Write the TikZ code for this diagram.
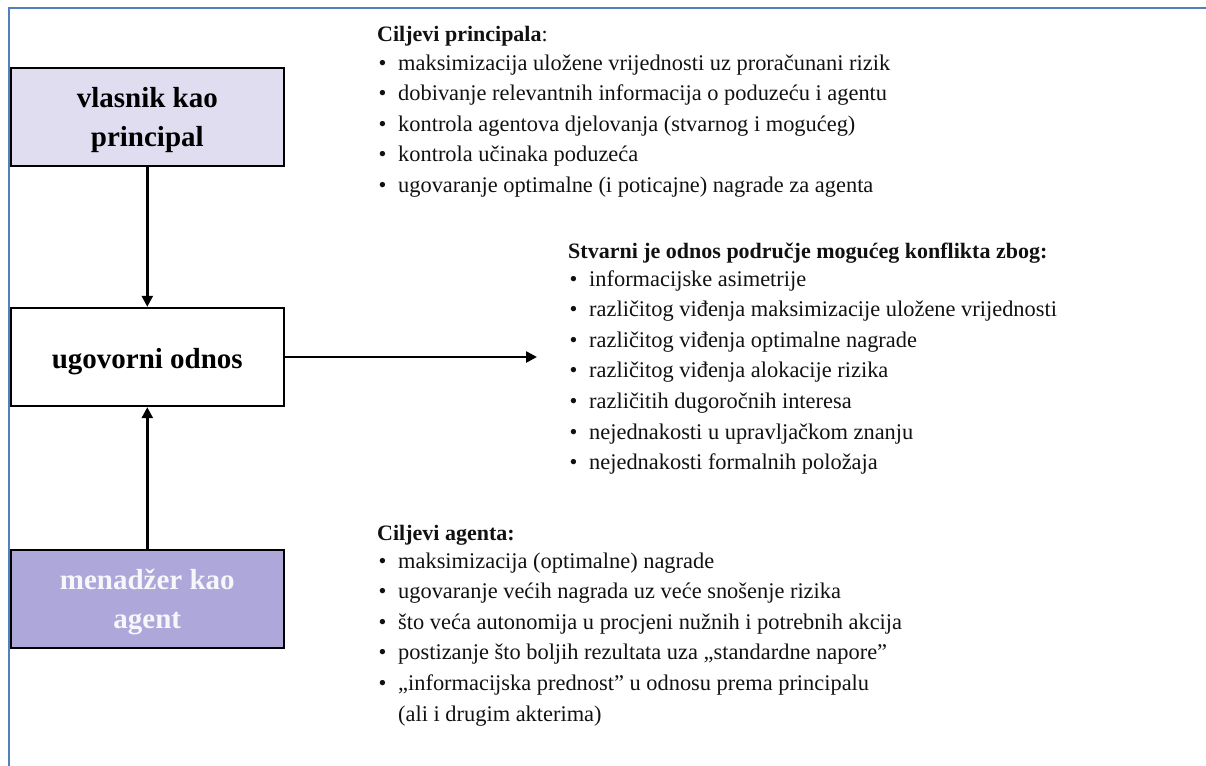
\documentclass[tikz,border=0pt]{standalone}
\usepackage{fontspec}
\setmainfont{Liberation Serif}
\usetikzlibrary{arrows.meta}
\definecolor{frameblue}{HTML}{4F81BD}
\definecolor{lav}{HTML}{E0DDF1}
\definecolor{purp}{HTML}{AEA7DA}
\definecolor{wtxt}{HTML}{F6F6FB}
\definecolor{bodytxt}{HTML}{111111}
\newcommand{\mybul}[1]{\hbox{\makebox[21pt][l]{\hspace{1.5pt}•}#1}}
\newcommand{\myhead}[1]{\hbox{\fontsize{22}{30.6}\selectfont #1}\vskip-2.5pt}
\tikzset{
  box/.style={draw=black, line width=1.9pt, minimum width=273.3pt, minimum height=98.5pt,
    inner sep=0pt, align=center, font=\bfseries\fontsize{29}{39}\selectfont},
  conn/.style={line width=2.5pt, -{Triangle[length=11pt,width=11pt]}},
  frame/.style={draw=frameblue, line width=2.4pt},
  txt/.style={anchor=base west, inner sep=0pt, text=bodytxt, font=\fontsize{22.4}{30.6}\selectfont},
}
\begin{document}
\begin{tikzpicture}[x=1pt,y=-1pt]
\useasboundingbox (0,0) rectangle (1206,765);
\path[frame] (9,766) -- (9,8) -- (1207,8);

\node[box, fill=lav] (principal) at (147.3,117)
  {\rule{0pt}{27pt}vlasnik kao\\principal\rule[-6pt]{0pt}{6pt}};
\node[box, fill=white] (ugovor) at (147.3,357)
  {\rule{0pt}{30pt}ugovorni odnos};
\node[box, fill=purp, text=wtxt] (agent) at (147.3,599)
  {\rule{0pt}{27pt}menadžer kao\\agent\rule[-6pt]{0pt}{6pt}};

\coordinate (tip) at (537,357);
\draw[conn] (principal.south) -- (ugovor.north);
\draw[conn] (agent.north) -- (ugovor.south);
\draw[conn] (ugovor.east) -- (tip);

\node[txt] (ciljP) at (377,42) {\vtop{\baselineskip=30.6pt\lineskiplimit=-100pt
  \myhead{\textbf{Ciljevi principala}:}
  \mybul{maksimizacija uložene vrijednosti uz proračunani rizik}
  \mybul{dobivanje relevantnih informacija o poduzeću i agentu}
  \mybul{kontrola agentova djelovanja (stvarnog i mogućeg)}
  \mybul{kontrola učinaka poduzeća}
  \mybul{ugovaranje optimalne (i poticajne) nagrade za agenta}}};

\node[txt] (odnos) at (568,258) {\vtop{\baselineskip=30.6pt\lineskiplimit=-100pt
  \myhead{\textbf{Stvarni je odnos područje mogućeg konflikta zbog:}}
  \mybul{informacijske asimetrije}
  \mybul{različitog viđenja maksimizacije uložene vrijednosti}
  \mybul{različitog viđenja optimalne nagrade}
  \mybul{različitog viđenja alokacije rizika}
  \mybul{različitih dugoročnih interesa}
  \mybul{nejednakosti u upravljačkom znanju}
  \mybul{nejednakosti formalnih položaja}}};

\node[txt] (ciljA) at (377,540) {\vtop{\baselineskip=30.6pt\lineskiplimit=-100pt
  \myhead{\textbf{Ciljevi agenta:}}
  \mybul{maksimizacija (optimalne) nagrade}
  \mybul{ugovaranje većih nagrada uz veće snošenje rizika}
  \mybul{što veća autonomija u procjeni nužnih i potrebnih akcija}
  \mybul{postizanje što boljih rezultata uza „standardne napore”}
  \mybul{„informacijska prednost” u odnosu prema principalu}
  \hbox{\hspace{21pt}(ali i drugim akterima)}}};
\end{tikzpicture}
\end{document}
